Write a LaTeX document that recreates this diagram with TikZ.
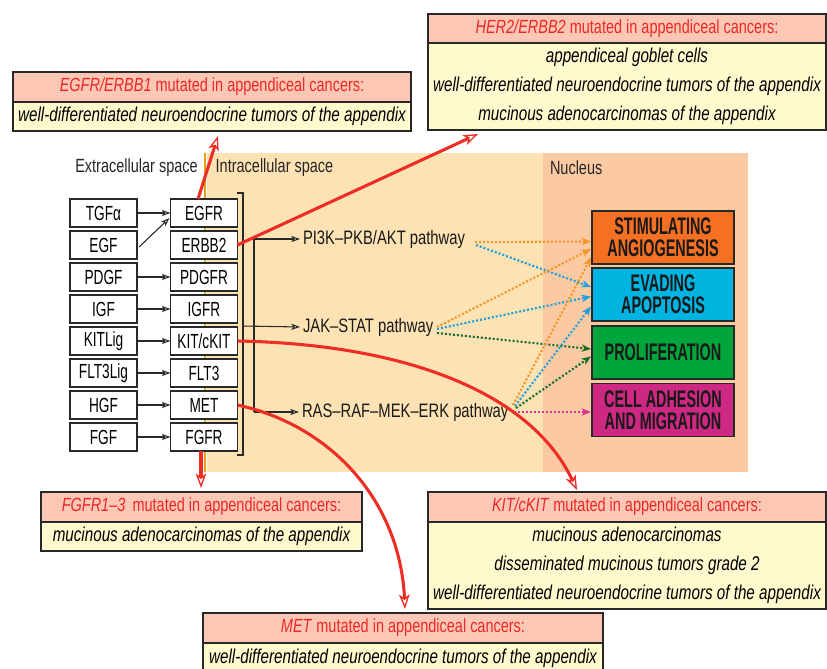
\documentclass[tikz,border=0pt]{standalone}
\usepackage{fontspec}
\setmainfont[FakeStretch=0.76]{Liberation Sans}
\newfontfamily\boxfont[FakeStretch=0.6]{Liberation Sans}
\newfontfamily\lblfont[FakeStretch=0.67]{Liberation Sans}
\usetikzlibrary{arrows.meta,calc}
\definecolor{hdrfill}{RGB}{252,199,181}
\definecolor{hdrred}{RGB}{237,40,40}
\definecolor{bodyfill}{RGB}{255,249,206}
\definecolor{cytofill}{RGB}{253,226,180}
\definecolor{nucfill}{RGB}{252,202,162}
\definecolor{membr}{RGB}{227,160,20}
\definecolor{redarr}{RGB}{238,45,36}
\definecolor{framec}{RGB}{40,40,40}
\definecolor{angc}{RGB}{245,112,35}
\definecolor{evac}{RGB}{0,180,226}
\definecolor{proc}{RGB}{0,166,60}
\definecolor{celc}{RGB}{205,40,130}
\definecolor{dotor}{RGB}{247,148,40}
\definecolor{dotcy}{RGB}{30,160,220}
\definecolor{dotgr}{RGB}{20,110,50}
\definecolor{dotmg}{RGB}{220,50,150}
\begin{document}
\begin{tikzpicture}[x=0.75pt,y=-0.75pt,
  every node/.style={inner sep=0pt,outer sep=0pt},
  lbl/.style={draw=framec,line width=1.1pt,fill=white,minimum width=50.25pt,minimum height=21pt,font=\lblfont\fontsize{15.3}{16}\selectfont},
  hdr/.style={draw=framec,line width=1pt,fill=hdrfill,text=hdrred,anchor=north west,minimum height=22.5pt,font=\fontsize{14.3}{16}\selectfont},
  bdy/.style={draw=framec,line width=1pt,fill=bodyfill,anchor=north west,align=center,font=\fontsize{15}{21.75}\selectfont\itshape},
  outbox/.style={draw=framec,line width=1.1pt,minimum width=106.5pt,minimum height=39.75pt,align=center,text=black!90,font=\boxfont\bfseries\fontsize{18}{16.5}\selectfont},
  region/.style={text=black!85,font=\fontsize{14.3}{16}\selectfont},
  path/.style={anchor=west,text=black!90,font=\fontsize{14.6}{16}\selectfont},
  lin/.style={draw=framec,line width=0.8pt},
  blk/.style={draw=framec,line width=0.8pt,-{Stealth[fill=white,length=6.5pt,width=4.5pt,inset=1.5pt]}},
  dotl/.style={line width=1.6pt,dash pattern=on 1.5pt off 1.5pt,-{Stealth[fill=white,length=7pt,width=5.5pt,inset=2pt]}},
  redl/.style={draw=redarr,line width=2.3pt,-{Stealth[fill=white,length=11pt,width=8pt,inset=3pt,line width=1pt]}}
]
\useasboundingbox (0,0) rectangle (827,668);
\fill[white] (0,0) rectangle (827,668);
% regions
\fill[cytofill] (207,153) rectangle (543,472);
\fill[nucfill] (543,153) rectangle (748,472);
\draw[membr,line width=2pt] (205,153) -- (205,472);
\node[region] (extra) at (136.5,168) {Extracellular space};
\node[region] (intra) at (274.5,168) {Intracellular space};
\node[region,anchor=west] (nucl) at (550,168) {Nucleus};

% ligands
\node[lbl] (tgfa) at (103.5,213) {TGFα};
\node[lbl] (egf) at (103.5,245) {EGF};
\node[lbl] (pdgf) at (103.5,277) {PDGF};
\node[lbl] (igf) at (103.5,309) {IGF};
\node[lbl] (kitlig) at (103.5,341) {KITLig};
\node[lbl] (flt3lig) at (103.5,373) {FLT3Lig};
\node[lbl] (hgf) at (103.5,405) {HGF};
\node[lbl] (fgf) at (103.5,437) {FGF};
% receptors
\node[lbl] (egfr) at (204,213) {EGFR};
\node[lbl] (erbb2) at (204,245) {ERBB2};
\node[lbl] (pdgfr) at (204,277) {PDGFR};
\node[lbl] (igfr) at (204,309) {IGFR};
\node[lbl] (kit) at (204,341) {KIT/cKIT};
\node[lbl] (flt3) at (204,373) {FLT3};
\node[lbl] (met) at (204,405) {MET};
\node[lbl] (fgfr) at (204,437) {FGFR};

\draw[blk] (tgfa.east) -- (egfr.west);
\draw[blk] ($(egf.east)+(2,2)$) -- ($(egfr.west)+(-1,5)$);
\draw[blk] (pdgf.east) -- (pdgfr.west);
\draw[blk] (igf.east) -- (igfr.west);
\draw[blk] (kitlig.east) -- (kit.west);
\draw[blk] (flt3lig.east) -- (flt3.west);
\draw[blk] (hgf.east) -- (met.west);
\draw[blk] (fgf.east) -- (fgfr.west);

% bracket
\draw[lin] (237,193) -- (243,193) -- (243,455) -- (237,455);

% pathways
\node[path] (pi3k) at (303,239) {PI3K–PKB/AKT pathway};
\node[path] (jak) at (303,327) {JAK–STAT pathway};
\node[path] (ras) at (302,412) {RAS–RAF–MEK–ERK pathway};
\coordinate (brk) at (243,326);
\coordinate (v1) at (254,239);
\coordinate (v2) at (254,412);
\draw[lin] (v1) -- (v2);
\draw[blk] (v1) -- ($(pi3k.west)+(-3,0)$);
\draw[blk] (brk) -- ($(jak.west)+(-3,0)$);
\draw[blk] (v2) -- ($(ras.west)+(-3,0)$);

% outcome boxes
\node[outbox,fill=angc] (ang) at (663,237.5) {STIMULATING\\ANGIOGENESIS};
\node[outbox,fill=evac] (eva) at (663,294.5) {EVADING\\APOPTOSIS};
\node[outbox,fill=proc] (pro) at (663,352.5) {PROLIFERATION};
\node[outbox,fill=celc] (cel) at (663,410) {CELL ADHESION\\AND MIGRATION};

% dotted sources
\coordinate (s1) at (475,242);
\coordinate (s2) at (437,329);
\coordinate (s3) at (514,408);
\draw[dotl,dotor] (s1) -- ($(ang.west)+(-1,4)$);
\draw[dotl,dotcy] ($(s1)+(1,3)$) -- ($(eva.west)+(-1,-7.5)$);
\draw[dotl,dotor] ($(s2)+(0,-2)$) -- ($(ang.west)+(-1,11.5)$);
\draw[dotl,dotcy] (s2) -- ($(eva.west)+(-1,2)$);
\draw[dotl,dotgr] ($(s2)+(0,4)$) -- ($(pro.west)+(-1,-3.5)$);
\draw[dotl,dotor] ($(s3)+(-1,-3)$) -- ($(ang.west)+(-1,20)$);
\draw[dotl,dotcy] ($(s3)+(1,-2)$) -- ($(eva.west)+(-1,12)$);
\draw[dotl,dotgr] ($(s3)+(2,0)$) -- ($(pro.west)+(-1,4)$);
\draw[dotl,dotmg] ($(s3)+(0,4)$) -- ($(cel.west)+(-1,2)$);

% mutation boxes
\node[hdr,minimum width=298.5pt] (h1) at (13,72) {\textit{EGFR/ERBB1} mutated in appendiceal cancers:};
\node[bdy,minimum width=298.5pt,minimum height=21.75pt] (b1) at (13,102) {well-differentiated neuroendocrine tumors of the appendix};

\node[hdr,minimum width=298.5pt,minimum height=21.75pt] (h2) at (428,14) {\textit{HER2/ERBB2} mutated in appendiceal cancers:};
\node[bdy,minimum width=298.5pt,minimum height=65.25pt] (b2) at (428,43) {appendiceal goblet cells\\well-differentiated neuroendocrine tumors of the appendix\\mucinous adenocarcinomas of the appendix};

\node[hdr,minimum width=240.75pt] (h3) at (41,492) {\textit{FGFR1–3} \,mutated in appendiceal cancers:};
\node[bdy,minimum width=240.75pt,minimum height=21.75pt] (b3) at (41,522) {mucinous adenocarcinomas of the appendix};

\node[hdr,minimum width=298.5pt] (h4) at (428,492) {\textit{KIT/cKIT} mutated in appendiceal cancers:};
\node[bdy,minimum width=298.5pt,minimum height=65.25pt] (b4) at (428,522) {mucinous adenocarcinomas\\disseminated mucinous tumors grade 2\\well-differentiated neuroendocrine tumors of the appendix};

\node[hdr,minimum width=300pt] (h5) at (203,613) {\textit{MET} mutated in appendiceal cancers:};
\node[bdy,minimum width=300pt,minimum height=22.5pt] (b5) at (203,643) {well-differentiated neuroendocrine tumors of the appendix};

% red arrows
\draw[redl] ($(egfr.north)+(-6,0)$) -- ($(b1.south)+(6,5)$);
\draw[redl] (erbb2.east) -- ($(b2.south west)+(50,4)$);
\draw[redl] (kit.east) .. controls (400,344) and (530,390) .. ($(h4.north west)+(149,-2)$);
\draw[redl] (met.east) .. controls (330,425) and (400,500) .. ($(h5.north west)+(202,-4)$);
\draw[redl] ($(fgfr.south)+(-3,0)$) -- ($(h3.north west)+(160,-4)$);
\end{tikzpicture}
\end{document}
